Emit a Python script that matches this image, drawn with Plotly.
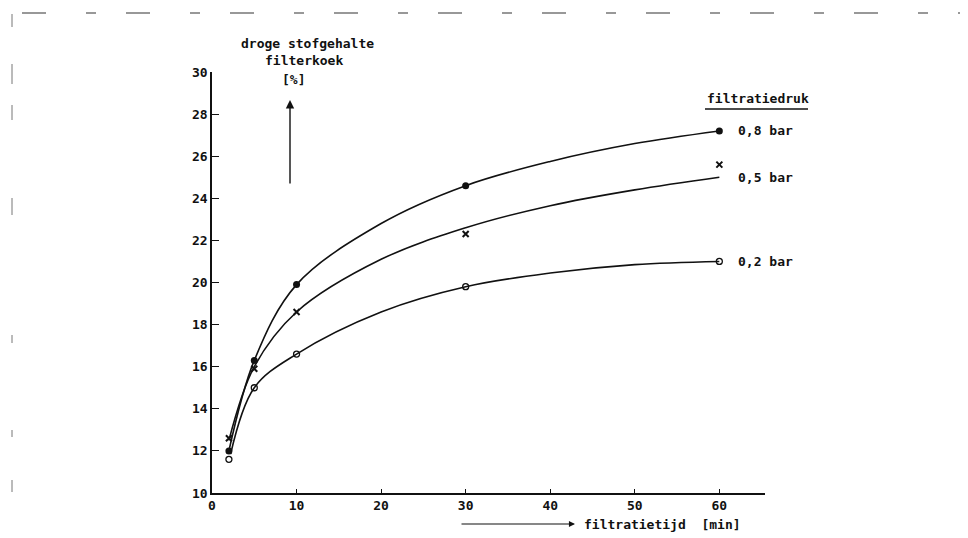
import plotly.graph_objects as go

# ---------------- data ----------------
time_pts = [2, 5, 10, 30, 60]
p08_pts = [12.0, 16.3, 19.9, 24.6, 27.2]
p05_pts = [12.6, 15.9, 18.6, 22.3, 25.6]
p02_pts = [11.6, 15.0, 16.6, 19.8, 21.0]

curve_t = [2, 5, 10, 20, 30, 40, 50, 60]
p08_curve = [12.0, 16.3, 19.9, 22.8, 24.6, 25.75, 26.6, 27.2]
p05_curve = [12.5, 16.0, 18.6, 21.1, 22.6, 23.65, 24.4, 25.0]
p02_t = [2.2, 5, 10, 20, 30, 40, 50, 60]
p02_curve = [11.85, 15.0, 16.6, 18.6, 19.8, 20.45, 20.85, 21.0]

labels = ["0,8 bar", "0,5 bar", "0,2 bar"]
label_y = [27.2, 25.0, 21.0]

y_ticks = list(range(10, 31, 2))
x_ticks = list(range(0, 61, 10))

FONT = "DejaVu Sans Mono"
INK = "#111111"

fig = go.Figure()

for t, c in [(curve_t, p08_curve), (curve_t, p05_curve), (p02_t, p02_curve)]:
    fig.add_trace(go.Scatter(x=t, y=c, mode="lines",
                             line=dict(color=INK, width=1.6, shape="spline", smoothing=1.0),
                             showlegend=False, hoverinfo="skip"))

fig.add_trace(go.Scatter(x=time_pts, y=p08_pts, mode="markers",
                         marker=dict(symbol="circle", size=7, color=INK),
                         showlegend=False))
fig.add_trace(go.Scatter(x=time_pts, y=p05_pts, mode="markers",
                         marker=dict(symbol="x-thin", size=6, color=INK, line=dict(color=INK, width=2)),
                         showlegend=False))
fig.add_trace(go.Scatter(x=time_pts, y=p02_pts, mode="markers",
                         marker=dict(symbol="circle-open", size=6, color=INK, line=dict(color=INK, width=1.3)),
                         showlegend=False))

# the page body has an 8px default margin; compensate so the plot lands where the reference has it
OFF = 8
W, H = 968 - OFF, 538 - OFF
L, R, T, B = 212 - OFF, 203, 72 - OFF, 45
pw, ph = W - L - R, H - T - B


def px(x):
    return (x - OFF - L) / pw


def py(y):
    return (H - B - (y - OFF)) / ph


def txt(x, y, s, xa="center", size=13):
    return dict(x=px(x), y=py(y), xref="paper", yref="paper", text=s, showarrow=False,
                xanchor=xa, yanchor="middle",
                font=dict(family=FONT, size=size, color=INK, weight="bold"))


annotations = []
for lab, ly in zip(labels, label_y):
    annotations.append(dict(x=62.0, y=ly, xref="x", yref="y", text=lab, showarrow=False,
                            xanchor="left", yanchor="middle",
                            font=dict(family=FONT, size=13, color=INK, weight="bold")))

annotations += [
    txt(307, 43, "droge stofgehalte"),
    txt(304, 61, "filterkoek"),
    txt(293, 80, "[%]"),
    dict(x=px(290), y=py(100), xref="paper", yref="paper", text="", showarrow=True,
         ax=0, ay=85, arrowhead=2, arrowsize=1.2, arrowwidth=1.4, arrowcolor=INK),
    txt(705, 98, "filtratiedruk", xa="left"),
    dict(x=px(575), y=py(524), xref="paper", yref="paper", text="", showarrow=True,
         ax=-115, ay=0, arrowhead=2, arrowsize=1.1, arrowwidth=1.1, arrowcolor=INK),
    txt(582, 524, "filtratietijd  [min]", xa="left"),
]

shapes = [
    dict(type="line", xref="paper", yref="paper", x0=px(705), x1=px(808),
         y0=py(109), y1=py(109), line=dict(color=INK, width=1.6)),
    dict(type="line", xref="paper", yref="paper", x0=px(22), x1=px(962),
         y0=py(13), y1=py(13), line=dict(color="#333333", width=1.2, dash="24px,40px,10px,30px")),
]
for y0, y1 in [(14, 27), (64, 84), (105, 120), (198, 215), (335, 343), (430, 437), (480, 492)]:
    shapes.append(dict(type="line", xref="paper", yref="paper", x0=px(12), x1=px(12),
                       y0=py(y0), y1=py(y1), line=dict(color="#777777", width=1)))

fig.update_layout(
    width=W, height=H,
    margin=dict(l=L, r=R, t=T, b=B),
    paper_bgcolor="white", plot_bgcolor="white",
    annotations=annotations, shapes=shapes,
    font=dict(family=FONT, size=12, color=INK),
)
fig.update_xaxes(range=[0, 65.4], tickvals=x_ticks, showline=True, linecolor=INK, linewidth=1.5,
                 ticks="inside", ticklen=4, tickcolor=INK, showgrid=False, zeroline=False,
                 tickfont=dict(family=FONT, size=13, color=INK, weight="bold"))
fig.update_yaxes(range=[10, 30], tickvals=y_ticks, showline=True, linecolor=INK, linewidth=1.5,
                 ticks="inside", ticklen=7, tickcolor=INK, showgrid=False, zeroline=False,
                 tickfont=dict(family=FONT, size=13, color=INK, weight="bold"))

fig.write_html("out.html")
